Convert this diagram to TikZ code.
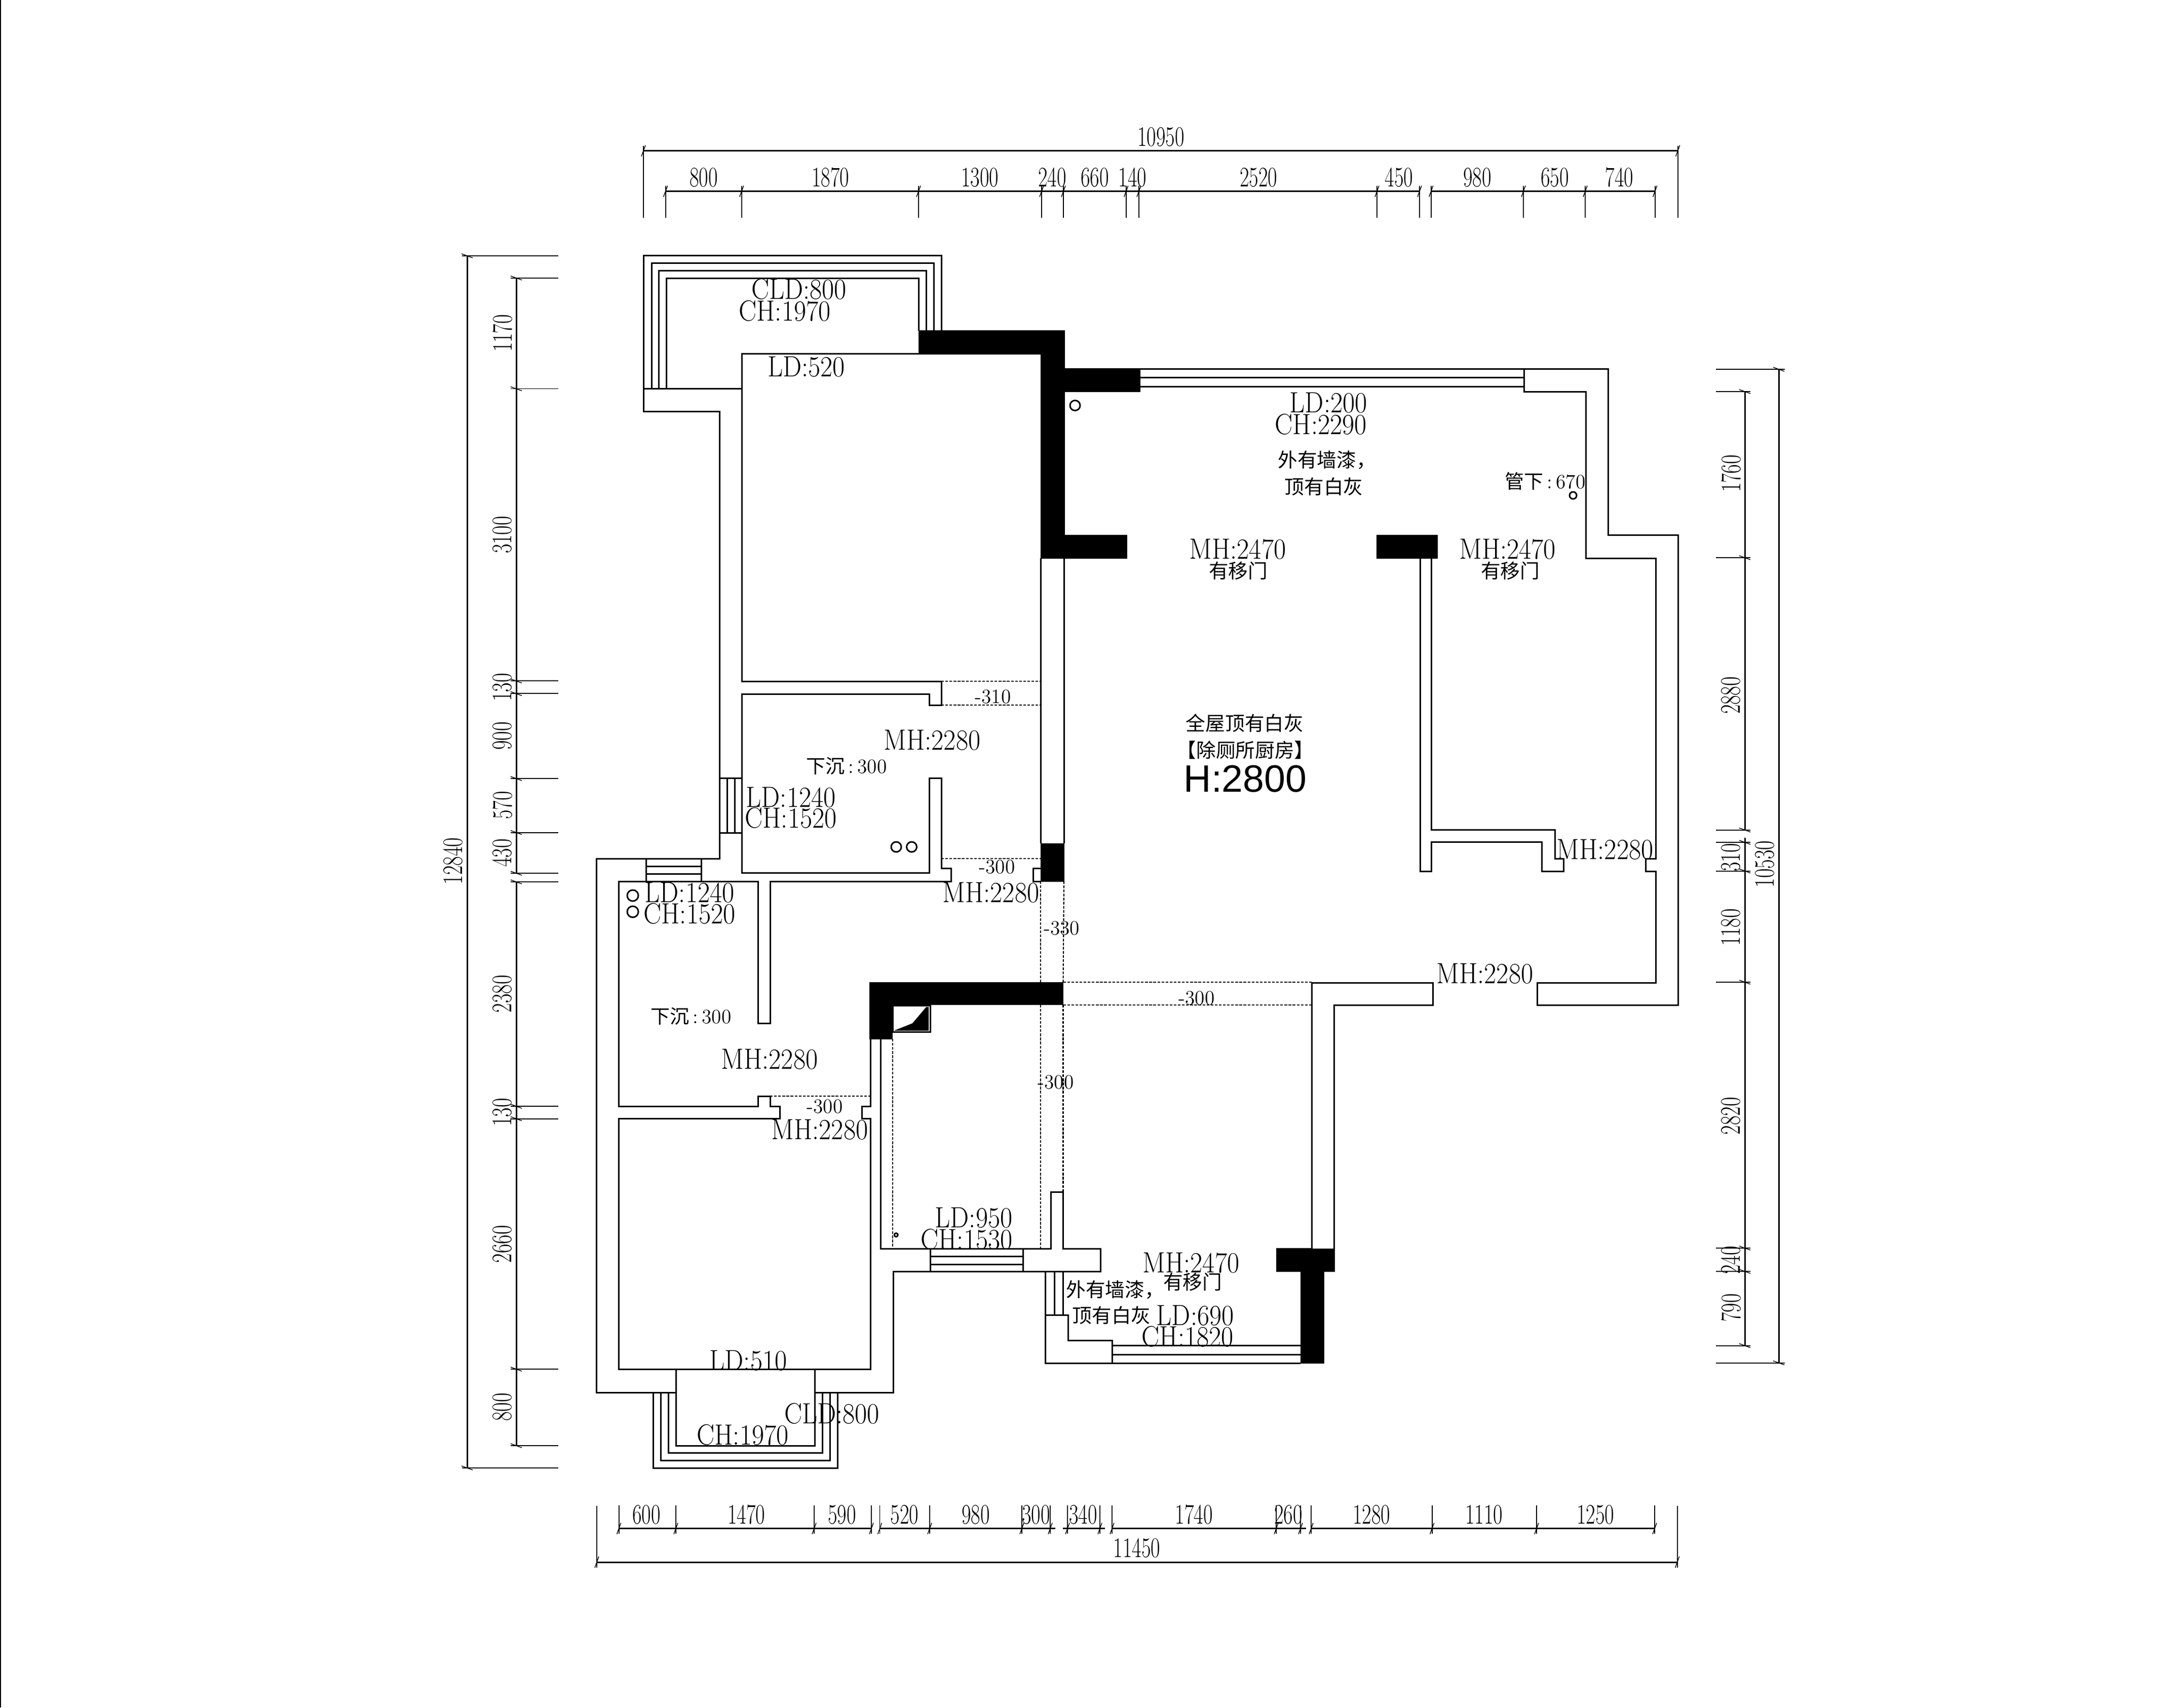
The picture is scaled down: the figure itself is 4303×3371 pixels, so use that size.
\documentclass[tikz,border=0pt]{standalone}
\usepackage{fontspec}
\usepackage{tikz}
\newfontfamily\cjk{Noto Sans CJK SC}
\newfontfamily\cadfont[FakeStretch=0.91]{Latin Modern Roman}
\newfontfamily\dimfont[FakeStretch=0.72]{Latin Modern Roman}
\newfontfamily\notefont[FakeStretch=0.98]{Latin Modern Roman}
\setsansfont{Liberation Sans}
\tikzset{
	wall/.style={line width=0.85pt, line join=miter},
	solid fill/.style={fill=black, draw=black, line width=0.3pt},
	sunk/.style={line width=0.6pt, dash pattern=on 1.5pt off 0.8pt},
	dimline/.style={line width=0.85pt},
	extline/.style={line width=0.55pt},
	tickline/.style={line width=0.4pt},
	pipe/.style={line width=0.85pt},
	plan/.style={inner sep=0pt, font=\cadfont\fontsize{16.4}{18}\selectfont},
	note/.style={inner sep=0pt, font=\notefont\fontsize{11.4}{13}\selectfont},
	cjknote/.style={inner sep=0pt, font=\cjk\fontsize{11}{13}\selectfont},
	dimtext/.style={inner sep=0pt, font=\dimfont\fontsize{15.9}{18}\selectfont},
}
\newcommand{\cjksmall}[1]{{\cjk\fontsize{10.8}{13}\selectfont #1}\kern2pt:\kern2pt}
\begin{document}
\begin{tikzpicture}[x=0.01cm, y=-0.01cm]
	\useasboundingbox (0,0) rectangle (4303,3371);
	\draw[extline] (1,0) -- (1,3371);

	% Solid walls
	\fill[solid fill] (1813.5,653) -- (2101,653) -- (2101,728) -- (2250,728) -- (2250,773) -- (2101,773) -- (2101,1056) -- (2224,1056) -- (2224,1102) -- (2054,1102) -- (2054,698.4) -- (1813.5,698.4) -- cycle;
	\fill[solid fill] (2717.6,1056) rectangle (2837,1102);
	\fill[solid fill] (2054,1665) rectangle (2100.6,1740);
	\fill[solid fill] (1717,1939) -- (2098.5,1939) -- (2098.5,1983.6) -- (1761.6,1983.6) -- (1761.6,2051) -- (1717,2051) -- cycle;
	\fill[solid fill] (2519,2465) -- (2634,2465) -- (2634,2510.6) -- (2613.5,2510.6) -- (2613.5,2691) -- (2567,2691) -- (2567,2510.6) -- (2519,2510.6) -- cycle;

	% Shaft
	\draw[wall, fill=black] (1763,1985) rectangle (1836,2037.7);
	\draw[line width=0.3pt, white] (1765,1987) rectangle (1834,2035.7);
	\fill[white] (1766,1988) -- (1828,1988) -- (1801,2020) -- (1766,2034) -- cycle;

	% Top balcony
	\draw[wall] (1270.6,767) -- (1270.6,504) -- (1858,504) -- (1858,653);
	\draw[wall] (1286,767) -- (1286,519.4) -- (1843,519.4) -- (1843,653);
	\draw[wall] (1300.6,767) -- (1300.6,534.7) -- (1828,534.7) -- (1828,653);
	\draw[wall] (1315,767) -- (1315,549.5) -- (1813.5,549.5) -- (1813.5,653);
	\draw[wall] (1464.5,767) -- (1270.6,767) -- (1270.6,812) -- (1420,812) -- (1420,1536);

	% Bedroom and bath
	\draw[wall] (2054,698.4) -- (1464.5,698.4) -- (1464.5,1345) -- (1858,1345) -- (1858,1392) -- (1834,1392) -- (1834,1370) -- (1464.5,1370) -- (1464.5,1723) -- (1834,1723) -- (1834,1536) -- (1858,1536) -- (1858,1714) -- (1877,1714) -- (1877,1740) -- (1520,1740) -- (1520,2020) -- (1496.5,2020) -- (1496.5,1740) -- (1221.5,1740) -- (1221.5,2184) -- (1496.5,2184) -- (1496.5,2164) -- (1520,2164) -- (1520,2184) -- (1539,2184) -- (1539,2208.6) -- (1221.5,2208.6) -- (1221.5,2703) -- (1718,2703) -- (1718,2208.6) -- (1701,2208.6) -- (1701,2184) -- (1718,2184) -- (1718,2051);
	\draw[wall] (1420,1644) -- (1420,1695) -- (1177,1695) -- (1177,2749) -- (1334,2749);
	\draw[wall] (1608,2749) -- (1763,2749) -- (1763,2510.6) -- (2172,2510.6) -- (2172,2465) -- (2098.5,2465) -- (2098.5,2353.6) -- (2074,2353.6) -- (2074,2465) -- (1738.7,2465) -- (1738.7,2051);
	\draw[wall] (2054,1102) -- (2054,1665);
	\draw[wall] (2100.6,1102) -- (2100.6,1665);
	\draw[wall] (2054,1714) -- (2039,1714) -- (2039,1740) -- (2054,1740);

	% Windows
	\foreach \x in {1420,1435,1450,1464.5}
	{
		\draw[wall] (\x,1536) -- (\x,1644);
	}
	\draw[wall] (1420,1536) -- (1464.5,1536);
	\draw[wall] (1420,1644) -- (1464.5,1644);
	\foreach \y in {1695,1710,1725,1740}
	{
		\draw[wall] (1275.7,\y) -- (1384,\y);
	}
	\draw[wall] (1275.7,1695) -- (1275.7,1740);
	\draw[wall] (1384,1695) -- (1384,1740);
	\foreach \y in {2465,2480,2496,2510.6}
	{
		\draw[wall] (1836,\y) -- (2019,\y);
	}
	\draw[wall] (1836,2465) -- (1836,2510.6);
	\draw[wall] (2019,2465) -- (2019,2510.6);
	\foreach \y in {728,745,763.6}
	{
		\draw[wall] (2250,\y) -- (3008,\y);
	}

	% Living room outline
	\draw[wall] (3008,728) -- (3174,728) -- (3174,1056) -- (3312,1056) -- (3312,1984) -- (3034.4,1984) -- (3034.4,1940) -- (3268,1940) -- (3268,1720) -- (3248,1720) -- (3248,1695.7) -- (3268,1695.7) -- (3268,1102) -- (3130,1102) -- (3130,773) -- (3008,773) -- cycle;
	\draw[wall] (2803,1102) -- (2803,1720) -- (2825.4,1720) -- (2825.4,1662) -- (3043.7,1662) -- (3043.7,1720) -- (3086.6,1720) -- (3086.6,1695.7) -- (3069.6,1695.7) -- (3069.6,1638) -- (2825.4,1638) -- (2825.4,1102);
	\draw[wall] (2519,2465) -- (2589,2465) -- (2589,1940) -- (2828,1940) -- (2828,1984) -- (2633,1984) -- (2633,2465);

	% Bottom balconies
	\draw[wall] (1334,2703) -- (1334,2854) -- (1608,2854) -- (1608,2703);
	\draw[wall] (1319,2749) -- (1319,2868) -- (1623,2868) -- (1623,2749);
	\draw[wall] (1304,2749) -- (1304,2883) -- (1638,2883) -- (1638,2749);
	\draw[wall] (1289,2749) -- (1289,2898) -- (1653,2898) -- (1653,2749);
	\draw[wall] (2063,2510.6) -- (2063,2691) -- (2567,2691);
	\draw[wall] (2081.6,2510.6) -- (2081.6,2596);
	\draw[wall] (2098,2510.6) -- (2098,2596);
	\draw[wall] (2063,2596) -- (2108,2596) -- (2108,2646) -- (2195,2646) -- (2195,2691);
	\draw[wall] (2195,2656) -- (2567,2656);
	\draw[wall] (2195,2674) -- (2567,2674);

	% Sunken floor edges
	\draw[sunk] (1858,1345) -- (2054,1345);
	\draw[sunk] (1858,1392) -- (2054,1392);
	\draw[sunk] (1858,1695) -- (2054,1695);
	\draw[sunk] (1520,2164) -- (1717,2164);
	\draw[sunk] (2054,1740) -- (2054,1939);
	\draw[sunk] (2100,1740) -- (2098.5,1939);
	\draw[sunk] (2054,1983.6) -- (2054,2465);
	\draw[sunk] (2098.5,1983.6) -- (2098.5,2353.6);
	\draw[sunk] (1761.6,2051) -- (1761.6,2465);
	\draw[sunk] (2098.5,1939) -- (2589,1939);
	\draw[sunk] (2098.5,1983.6) -- (2589,1983.6);

	% Pipes
	\foreach \x/\y/\r in {2122/800.5/10, 3105/978/7, 1769/1672/10, 1799.5/1672/10, 1249/1768/11, 1249/1800/11, 1768.7/2438/3.5}
	{
		\draw[pipe] (\x,\y) circle [radius=\r];
	}

	% Top dimensions
	\draw[dimline] (1270,297.7) -- (3311.6,297.7);
	\draw[dimline] (1313.6,377.6) -- (2802,377.6);
	\draw[dimline] (2824.7,377.6) -- (3266.6,377.6);
	\foreach \x in {1270,3311.6}
	{
		\draw[extline] (\x,288) -- (\x,430);
		\draw[tickline] (\x,297.7) ++(-4,11) -- ++(8,-22);
	}
	\foreach \x in {1313.6,1463.8,1813,2056,2099,2222.8,2248,2718,2802,2824.7,3007,3129,3266.6}
	{
		\draw[extline] (\x,367) -- (\x,430);
		\draw[tickline] (\x,377.6) ++(-4,11) -- ++(8,-22);
	}
	\foreach \x/\t [count=\i] in {1389/800, 1639/1870, 1934/1300, 2077/240, 2161/660, 2235.5/140, 2484/2520, 2761.6/450, 2916/980, 3069/650, 3196.5/740}
	{
		\node[dimtext] (top\i) at (\x,350) {\t};
	}
	\node[dimtext] (topall) at (2291.6,270) {10950};

	% Bottom dimensions
	\draw[dimline] (1178,3084) -- (3310.6,3084);
	\draw[dimline] (1221.6,3017.6) -- (1720,3017.6);
	\draw[dimline] (1736.5,3017.6) -- (2083,3017.6);
	\draw[dimline] (2098,3017.6) -- (2181,3017.6);
	\draw[dimline] (2195,3017.6) -- (2578,3017.6);
	\draw[dimline] (2588,3017.6) -- (3266,3017.6);
	\foreach \x in {1178,3310.6}
	{
		\draw[extline] (\x,2973) -- (\x,3095);
		\draw[tickline] (\x,3084) ++(-4,11) -- ++(8,-22);
	}
	\foreach \x in {1221.6,1334,1607,1720,1736.5,1835,2017,2073,2107,2171,2195,2519,2567,2588,2826.6,3033,3266}
	{
		\draw[extline] (\x,2972) -- (\x,3028);
		\draw[tickline] (\x,3017.6) ++(-4,11) -- ++(8,-22);
	}
	\foreach \x/\t [count=\i] in {1276/600, 1473/1470, 1662/590, 1785.6/520, 1926/980, 2045/300, 2138/340, 2356.6/1740, 2543/260, 2707/1280, 2929/1110, 3149/1250}
	{
		\node[dimtext] (bot\i) at (\x,2990) {\t};
	}
	\node[dimtext] (botall) at (2244,3056.5) {11450};

	% Left dimensions
	\draw[dimline] (922,505) -- (922,2898);
	\draw[dimline] (1019,548.8) -- (1019,1724);
	\draw[dimline] (1019,1741) -- (1019,2854);
	\foreach \y in {505,2898}
	{
		\draw[extline] (912,\y) -- (1102,\y);
		\draw[tickline] (922,\y) ++(-11,-4) -- ++(22,8);
	}
	\foreach \y in {548.8,767.5,1344.4,1369.4,1537,1643.6,1724,1741,2184,2208.6,2703,2854}
	{
		\draw[extline] (1008,\y) -- (1102,\y);
		\draw[tickline] (1019,\y) ++(-11,-4) -- ++(22,8);
	}
	\foreach \y/\t [count=\i] in {658/1170, 1056/3100, 1357/130, 1453/900, 1590/570, 1684/430, 1962/2380, 2196/130, 2456/2660, 2778/800}
	{
		\node[dimtext, rotate=90] (lef\i) at (991.6,\y) {\t};
	}
	\node[dimtext, rotate=90] (lefall) at (894,1700) {12840};

	% Right dimensions
	\draw[dimline] (3511,729) -- (3511,2690.6);
	\draw[dimline] (3444,773) -- (3444,1638.6);
	\draw[dimline] (3444,1654) -- (3444,2656.6);
	\foreach \y in {729,2690.6}
	{
		\draw[extline] (3387,\y) -- (3522.6,\y);
		\draw[tickline] (3511,\y) ++(-11,-4) -- ++(22,8);
	}
	\foreach \y in {773,1101,1638.6,1663,1719.5,1939,2464,2510,2656.6}
	{
		\draw[extline] (3387,\y) -- (3455,\y);
		\draw[tickline] (3444,\y) ++(-11,-4) -- ++(22,8);
	}
	\foreach \y/\t [count=\i] in {935/1760, 1373/2880, 1693/310, 1831/1180, 2203/2820, 2488/240, 2582/790}
	{
		\node[dimtext, rotate=90] (rig\i) at (3416.6,\y) {\t};
	}
	\node[dimtext, rotate=90] (rigall) at (3483,1706) {10530};

	% Room labels
	\foreach \x/\y/\t [count=\i] in {1577/571/CLD:800, 1549/614/CH:1970, 1591.5/724/LD:520, 2622/795/LD:200, 2607/838/CH:2290, 2443/1084/MH:2470, 2975.6/1084/MH:2470, 1840/1461/MH:2280, 1561/1574/LD:1240, 1561/1615/CH:1520, 1956/1762/MH:2280, 1361/1762/LD:1240, 1361/1804/CH:1520, 1519/2091/MH:2280, 1618/2230.6/MH:2280, 1922/2404/LD:950, 1908/2447/CH:1530, 2351/2493/MH:2470, 2359/2597/LD:690, 2344/2639/CH:1820, 1477/2686.5/LD:510, 1642/2791/CLD:800, 1466/2833/CH:1970, 3168/1677/MH:2280, 2931/1922/MH:2280}
	{
		\node[plan] (room\i) at (\x,\y) {\t};
	}
	\foreach \x/\y/\t [count=\i] in {1960/1375.5/-310, 1968/1712/-300, 2095.5/1833/-330, 2362/1971/-300, 2084/2137/-300, 1628/2185/-300}
	{
		\node[note] (drop\i) at (\x,\y) {\t};
	}
	\node[note] (sink1) at (1671,1512) {\cjksmall{下沉}300};
	\node[note] (sink2) at (1364,2006) {\cjksmall{下沉}300};
	\node[note] (duct) at (3050,950) {\cjksmall{管下}670};
	\foreach \x/\y/\t [count=\i] in {2619/908/外有墙漆，, 2613/961/顶有白灰, 2444/1127/有移门, 2981/1127/有移门, 2457/1428/全屋顶有白灰, 2458/1481/【除厕所厨房】, 2354/2531/有移门, 2201/2546/外有墙漆，, 2194/2597/顶有白灰}
	{
		\node[cjknote] (memo\i) at (\x,\y) {\t};
	}
	\node[inner sep=0pt, font=\sffamily\fontsize{21.4}{24}\selectfont] (height) at (2458,1538) {H:2800};
\end{tikzpicture}
\end{document}
